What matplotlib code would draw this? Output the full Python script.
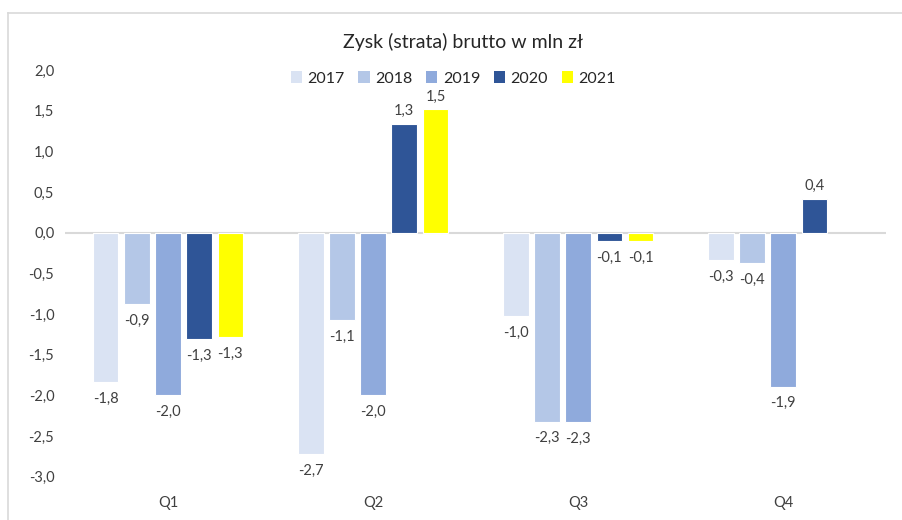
import numpy as np
import matplotlib
matplotlib.use("Agg")
import matplotlib.pyplot as plt
from matplotlib.patches import Rectangle
from matplotlib.lines import Line2D

plt.rcParams['font.family'] = ['Lato', 'DejaVu Sans']

categories = ["Q1", "Q2", "Q3", "Q4"]
years = ["2017", "2018", "2019", "2020", "2021"]
v2017 = [-1.83, -2.72, -1.02, -0.33]
v2018 = [-0.88, -1.07, -2.32, -0.37]
v2019 = [-1.99, -1.99, -2.33, -1.89]
v2020 = [-1.31, 1.34, -0.10, 0.42]
v2021 = [-1.28, 1.52, -0.10, np.nan]
series = [v2017, v2018, v2019, v2020, v2021]
colors = ["#DAE3F3", "#B4C7E7", "#8FAADC", "#2F5597", "#FFFF00"]
title = "Zysk (strata) brutto w mln zł"
yticks = [2.0, 1.5, 1.0, 0.5, 0.0, -0.5, -1.0, -1.5, -2.0, -2.5, -3.0]

fig = plt.figure(figsize=(9.03, 5.2), dpi=100)
ax = fig.add_axes([0.0725, 0.083, 0.9085, 0.782])

x = np.arange(len(categories))
step = 0.152
bw = 0.125
for i, (vals, c) in enumerate(zip(series, colors)):
    off = (i - 2) * step
    vals = np.array(vals, dtype=float)
    ax.bar(x + off, vals, width=bw, color=c, edgecolor="white", linewidth=0.8, zorder=3)
    for xi, v in zip(x + off, vals):
        if np.isnan(v):
            continue
        lab = f"{v:.1f}".replace(".", ",")
        if v >= 0:
            ax.annotate(lab, (xi, v), xytext=(0, 4), textcoords="offset points",
                        ha="center", va="bottom", fontsize=10.5, color="#404040")
        else:
            ax.annotate(lab, (xi, v), xytext=(0, -7), textcoords="offset points",
                        ha="center", va="top", fontsize=10.5, color="#404040")

ax.set_xlim(-0.5, 3.5)
ax.set_ylim(-3.0, 2.0)
ax.axhline(0, color="#D9D9D9", linewidth=1.5, zorder=2)
for s in ax.spines.values():
    s.set_visible(False)
ax.set_yticks(yticks)
ax.set_yticklabels([f"{t:.1f}".replace(".", ",") for t in yticks], fontsize=10.5, color="#404040")
ax.set_xticks(x)
ax.set_xticklabels(categories, fontsize=10.5, color="#404040")
ax.tick_params(axis="both", length=0)
ax.tick_params(axis="y", pad=8)
ax.tick_params(axis="x", pad=14)

fig.text(0.513, 0.919, title, ha="center", va="center", fontsize=14, color="#262626")

handles = [Rectangle((0, 0), 1, 1, facecolor=c, edgecolor="none") for c in colors]
fig.legend(handles, years, loc="center", bbox_to_anchor=(0.502, 0.849), ncol=5,
           frameon=False, fontsize=11.5, handlelength=0.7, handleheight=0.7,
           handletextpad=0.35, columnspacing=0.85, labelcolor="#262626")

# chart border (cropped Excel chart area)
fig.add_artist(Line2D([8 / 903, 8 / 903], [0, 1 - 13 / 520], transform=fig.transFigure,
                      color="#D9D9D9", linewidth=1.2))
fig.add_artist(Line2D([8 / 903, 1], [1 - 13 / 520, 1 - 13 / 520], transform=fig.transFigure,
                      color="#D9D9D9", linewidth=1.2))

fig.savefig("out.png", dpi=100)
